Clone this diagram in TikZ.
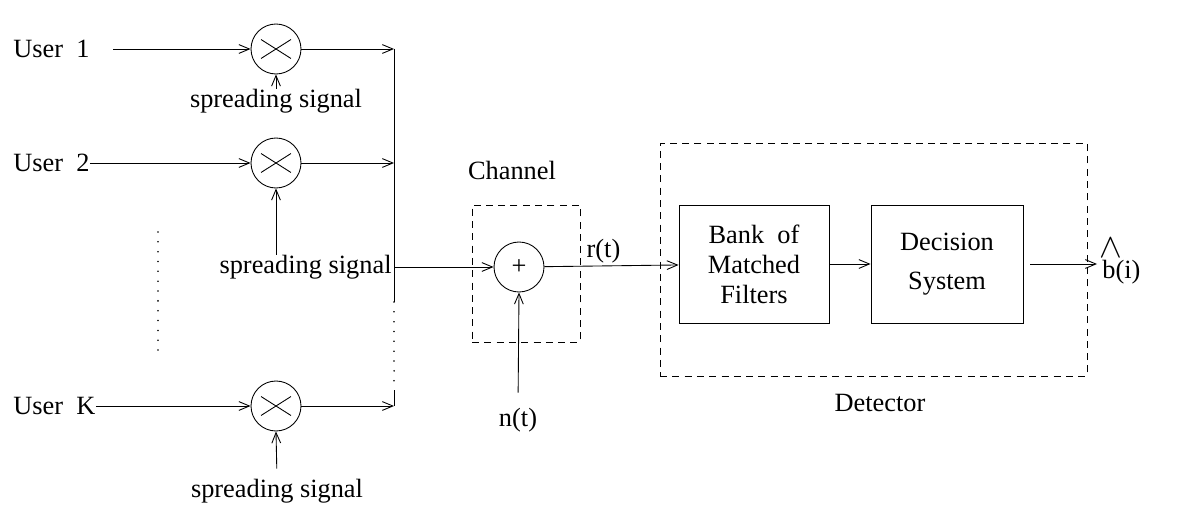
\documentclass[tikz,border=0pt]{standalone}
\usepackage{fontspec}
\setmainfont{Liberation Serif}
\usetikzlibrary{arrows.meta}
\begin{document}
\begin{tikzpicture}[x=0.02cm,y=-0.02cm,line width=0.5pt,
  >={Straight Barb[length=6pt,width=5pt]},
  txt/.style={font=\fontsize{15}{17}\selectfont,inner sep=0pt},
  mult/.style={circle,draw,minimum size=1cm,inner sep=0pt,
    path picture={
      \draw ([shift={(-0.3cm,-0.19cm)}]path picture bounding box.center) -- ([shift={(0.3cm,0.19cm)}]path picture bounding box.center);
      \draw ([shift={(-0.3cm,0.19cm)}]path picture bounding box.center) -- ([shift={(0.3cm,-0.19cm)}]path picture bounding box.center);}},
  adder/.style={circle,draw,minimum size=1cm,inner sep=0pt,font=\fontsize{15}{17}\selectfont},
  blk/.style={draw,minimum width=3cm,minimum height=2.36cm,inner sep=0pt,align=center,font=\fontsize{15}{17}\selectfont},
  dbox/.style={draw,dash pattern=on 4pt off 3pt},
  dots/.style={line width=1pt,line cap=round,dash pattern=on 0pt off 5.6pt}]
\useasboundingbox (0,0) rectangle (1197,517);

% users
\node[txt,anchor=west] (u1) at (13,49) {User\ \ 1};
\node[txt,anchor=west] (u2) at (13,163) {User\ \ 2};
\node[txt,anchor=west] (uK) at (13,406) {User\ \ K};
\coordinate (u1s) at (113,49);

\node[mult] (m1) at (276,49) {};
\node[mult] (m2) at (276,163) {};
\node[mult] (mK) at (276,406) {};

\node[txt] (s1) at (276,101) {spreading signal};
\node[txt,anchor=east] (s2) at (392,267) {spreading signal};
\node[txt] (sK) at (277,491) {spreading signal};

\draw[->] (u1s) -- (m1);
\draw[->] (u2.east) -- (m2);
\draw[->] (uK.east) -- (mK);
\draw[->] (s1.north) -- (m1.south);
\draw[->] (s2.north -| m2) -- (m2.south);
\draw[->,shorten <=0.2cm] (sK.north) -- (mK.south);

% vertical dots
\coordinate (d1) at (158,232);
\coordinate (d2) at (158,354);
\draw[dots] (d1) -- (d2);

% bus
\coordinate (b1) at (394,49);
\coordinate (b2) at (394,163);
\coordinate (bm) at (394,267);
\coordinate (bd1) at (394,302);
\coordinate (bd2) at (394,390);
\coordinate (bK) at (394,406);
\draw[->] (m1) -- (b1);
\draw[->] (m2) -- (b2);
\draw[->] (mK) -- (bK);
\draw (b1) -- (bd1);
\draw[dots] (bd1) -- (bd2);
\draw (bd2) -- (bK);

% channel
\node[adder] (add) at (519,267) {+};
\draw[->] (bm) -- (add);
\node[dbox,minimum width=2.16cm,minimum height=2.74cm,inner sep=0pt] (chbox) at (526,273.5) {};
\node[txt] (chl) at (512,170) {Channel};
\node[txt] (nt) at (518,420) {n(t)};
\draw[->,shorten <=0.3cm] (nt.north) -- (add.south);

% detector
\node[dbox,minimum width=8.54cm,minimum height=4.66cm,inner sep=0pt] (detbox) at (873.5,259.5) {};
\node[txt] (detl) at (880,403) {Detector};
\node[blk] (bank) at (754,264) {Bank\ \ of\\ Matched\\ Filters};
\node[blk,minimum width=3.04cm] (dec) at (947,264) {Decision\\[5pt] System};
\draw[->] (add) -- node[txt,above=1.5pt,pos=0.44] (rt) {r(t)} (bank);
\draw[->] (bank) -- (dec);
\node[txt,anchor=west] (bhat) at (1102,272) {\rlap{\raisebox{1.75ex}[0pt][0pt]{\kern-1.5pt\scalebox{1.35}{$\wedge$}}}b(i)};
\draw[->,shorten <=0.14cm,shorten >=0.1cm] (dec.east) -- (bhat.west |- dec.east);
\end{tikzpicture}
\end{document}
